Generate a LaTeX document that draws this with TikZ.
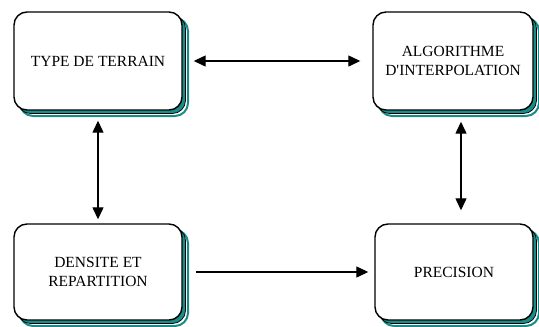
\documentclass[tikz,border=0pt]{standalone}
\usepackage{fontspec}
\setmainfont{Liberation Serif}
\usepackage{tikz}
\usetikzlibrary{positioning,shadows,arrows.meta}
\definecolor{stackteal}{RGB}{24,140,136}

\begin{document}
\begin{tikzpicture}[x=1pt,y=-1pt,
  stackbox/.style={draw=black, line width=1.4pt, fill=white, rounded corners=13pt,
    align=center, inner sep=0pt, font=\fontsize{15.5}{19}\selectfont,
    general shadow={shadow xshift=6pt, shadow yshift=-6pt, draw=stackteal, line width=2pt, fill=white},
    general shadow={shadow xshift=3.5pt, shadow yshift=-3.5pt, draw=black, line width=0.7pt, fill=stackteal}},
  link/.style={line width=1.3pt, -{Triangle[length=12pt,width=11pt]}},
  dlink/.style={line width=1.3pt, {Triangle[length=12pt,width=11pt]}-{Triangle[length=12pt,width=11pt]}}]
\useasboundingbox (0,0) rectangle (539,327);

% les quatre blocs
\node[stackbox, minimum width=168pt, minimum height=98pt] (terrain) at (98,61) {TYPE DE TERRAIN};
\node[stackbox, minimum width=160pt, minimum height=98pt] (algo) at (453,61) {ALGORITHME\\D\textquotesingle INTERPOLATION};
\node[stackbox, minimum width=168pt, minimum height=96pt] (densite) at (98,272) {DENSITE ET\\REPARTITION};
\node[stackbox, minimum width=158pt, minimum height=96pt] (prec) at (454,272) {PRECISION};

% liaisons
\draw[dlink, shorten <=11pt, shorten >=12pt] (terrain.east) -- (algo.west);
\draw[dlink, shorten <=10pt, shorten >=4pt] (terrain.south) -- (densite.north);
\draw[dlink, shorten <=11pt, shorten >=13pt] ([xshift=8pt]algo.south) -- ([xshift=7pt]prec.north);
\draw[link, shorten <=13pt, shorten >=6pt] (densite.east) -- (prec.west);
\end{tikzpicture}
\end{document}
